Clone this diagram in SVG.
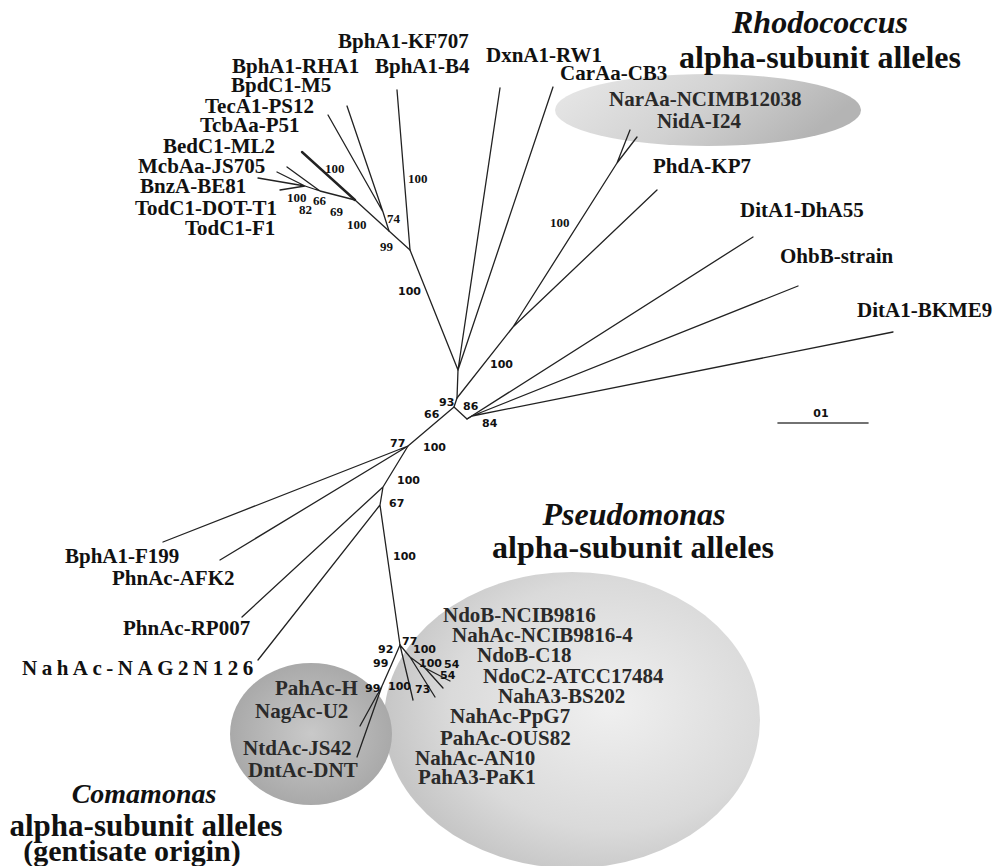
<svg xmlns="http://www.w3.org/2000/svg" width="998" height="866" viewBox="0 0 998 866">
<defs>
<linearGradient id="gRho" x1="0" y1="0" x2="1" y2="0.3">
<stop offset="0" stop-color="#e9e9e9"/><stop offset="0.55" stop-color="#d2d2d2"/><stop offset="1" stop-color="#b4b4b4"/>
</linearGradient>
<radialGradient id="gPse" cx="0.6" cy="0.45" r="0.6">
<stop offset="0" stop-color="#f0f0f0"/><stop offset="0.7" stop-color="#dadada"/><stop offset="1" stop-color="#c6c6c6"/>
</radialGradient>
<radialGradient id="gCom" cx="0.5" cy="0.5" r="0.55">
<stop offset="0" stop-color="#c9c9c9"/><stop offset="1" stop-color="#a6a6a6"/>
</radialGradient>
<style>
.lf{font-family:"Liberation Serif","Times New Roman",Times,serif;font-weight:bold;font-size:21px;fill:#111}
.in{fill:#2a2a2a}
.bs{font-family:"Liberation Serif","Times New Roman",Times,serif;font-weight:bold;font-size:13px;fill:#111}
.bc{font-family:"DejaVu Sans",Verdana,sans-serif;font-weight:bold;font-size:11px;fill:#111}
.tt{font-family:"Liberation Serif","Times New Roman",Times,serif;font-weight:bold;font-size:32px;fill:#111;text-anchor:middle}
.it{font-style:italic}
.br{fill:none;stroke:#222;stroke-width:1.3;stroke-linecap:round;stroke-linejoin:round}
</style>
</defs>
<rect width="998" height="866" fill="#fff"/>

<g id="clade-rhodococcus">
<ellipse cx="708" cy="110" rx="153" ry="36" fill="url(#gRho)"/>
<text class="tt it" x="820" y="33">Rhodococcus</text>
<text class="tt" x="820" y="68">alpha-subunit alleles</text>
</g>
<g id="clade-pseudomonas">
<ellipse cx="572" cy="720" rx="188" ry="148" fill="url(#gPse)"/>
<text class="tt it" x="634" y="525">Pseudomonas</text>
<text class="tt" x="633" y="558">alpha-subunit alleles</text>
</g>
<g id="clade-comamonas">
<ellipse cx="311" cy="734" rx="81" ry="71" fill="url(#gCom)"/>
<text class="tt it" x="144" y="803" style="font-size:28px">Comamonas</text>
<text class="tt" x="146" y="836" style="font-size:31px">alpha-subunit alleles</text>
<text class="tt" x="132" y="861" style="font-size:30px">(gentisate origin)</text>
</g>

<g id="connectors" class="br">
<path d="M458,370 L457,398 L454,407 L467,419 L753,237"/>
<path d="M467,419 L472,416 L798,286 M472,416 L893,332"/>
<path d="M457,398 L513,327 L657,190 M513,327 L617,163 L630,130 M617,163 L637,137"/>
<path d="M458,370 L500,88 M458,370 L553,87 M458,370 L410,250 L397,90"/>
<path d="M410,250 L389,231 L383,212 L328,115 M383,212 L347,106"/>
<path d="M389,231 L355,200 L320,191 L287,167 M320,191 L305,186 L277,172 M305,186 L258,178 M305,186 L280,190"/>
<path d="M355,200 L302,152" style="stroke-width:2.4"/>
<path d="M454,407 L408,446 L163,542 M408,446 L220,560"/>
<path d="M408,446 L383,487 L242,617 M383,487 L380,505 L258,660 M380,505 L400,645"/>
<path d="M400,645 L413,700 M400,645 L410,657 L435,697 M410,657 L425,668 L450,681 M425,668 L443,688"/>
<path d="M400,645 L390,668 L382,686 L360,726 M382,686 L357,757"/>
<path d="M778,423 L868,423" style="stroke-width:1.6;stroke:#444"/>
</g>

<g id="leaf-BphA1-KF707"><text class="lf" x="338" y="48">BphA1-KF707</text></g>
<g id="leaf-BphA1-RHA1"><text class="lf" x="232" y="73">BphA1-RHA1</text></g>
<g id="leaf-BphA1-B4"><text class="lf" x="375" y="73">BphA1-B4</text></g>
<g id="leaf-BpdC1-M5"><text class="lf" x="231" y="92">BpdC1-M5</text></g>
<g id="leaf-TecA1-PS12"><text class="lf" x="205" y="113">TecA1-PS12</text></g>
<g id="leaf-TcbAa-P51"><text class="lf" x="200" y="132">TcbAa-P51</text></g>
<g id="leaf-BedC1-ML2"><text class="lf" x="163" y="153">BedC1-ML2</text></g>
<g id="leaf-McbAa-JS705"><text class="lf" x="138" y="173">McbAa-JS705</text></g>
<g id="leaf-BnzA-BE81"><text class="lf" x="140" y="193">BnzA-BE81</text></g>
<g id="leaf-TodC1-DOT-T1"><text class="lf" x="135" y="215">TodC1-DOT-T1</text></g>
<g id="leaf-TodC1-F1"><text class="lf" x="185" y="235">TodC1-F1</text></g>
<g id="leaf-DxnA1-RW1"><text class="lf" x="486" y="62">DxnA1-RW1</text></g>
<g id="leaf-CarAa-CB3"><text class="lf" x="560" y="80">CarAa-CB3</text></g>
<g id="leaf-NarAa-NCIMB12038"><text class="lf in" x="609" y="106">NarAa-NCIMB12038</text></g>
<g id="leaf-NidA-I24"><text class="lf in" x="657" y="128">NidA-I24</text></g>
<g id="leaf-PhdA-KP7"><text class="lf" x="653" y="173">PhdA-KP7</text></g>
<g id="leaf-DitA1-DhA55"><text class="lf" x="740" y="217">DitA1-DhA55</text></g>
<g id="leaf-OhbB-strain"><text class="lf" x="780" y="263">OhbB-strain</text></g>
<g id="leaf-DitA1-BKME9"><text class="lf" x="857" y="317">DitA1-BKME9</text></g>
<g id="leaf-BphA1-F199"><text class="lf" x="65" y="563">BphA1-F199</text></g>
<g id="leaf-PhnAc-AFK2"><text class="lf" x="112" y="585">PhnAc-AFK2</text></g>
<g id="leaf-PhnAc-RP007"><text class="lf" x="123" y="635">PhnAc-RP007</text></g>
<g id="leaf-NahAc-NAG2N126"><text class="lf" x="22" y="675" style="letter-spacing:4.5px">NahAc-NAG2N126</text></g>
<g id="leaf-NdoB-NCIB9816"><text class="lf in" x="443" y="622">NdoB-NCIB9816</text></g>
<g id="leaf-NahAc-NCIB9816-4"><text class="lf in" x="452" y="642">NahAc-NCIB9816-4</text></g>
<g id="leaf-NdoB-C18"><text class="lf in" x="477" y="662">NdoB-C18</text></g>
<g id="leaf-NdoC2-ATCC17484"><text class="lf in" x="483" y="683">NdoC2-ATCC17484</text></g>
<g id="leaf-NahA3-BS202"><text class="lf in" x="498" y="703">NahA3-BS202</text></g>
<g id="leaf-NahAc-PpG7"><text class="lf in" x="450" y="723">NahAc-PpG7</text></g>
<g id="leaf-PahAc-OUS82"><text class="lf in" x="440" y="745">PahAc-OUS82</text></g>
<g id="leaf-NahAc-AN10"><text class="lf in" x="415" y="765">NahAc-AN10</text></g>
<g id="leaf-PahA3-PaK1"><text class="lf in" x="418" y="784">PahA3-PaK1</text></g>
<g id="leaf-PahAc-H"><text class="lf in" x="275" y="695">PahAc-H</text></g>
<g id="leaf-NagAc-U2"><text class="lf in" x="255" y="718">NagAc-U2</text></g>
<g id="leaf-NtdAc-JS42"><text class="lf in" x="243" y="755">NtdAc-JS42</text></g>
<g id="leaf-DntAc-DNT"><text class="lf in" x="248" y="777">DntAc-DNT</text></g>

<g id="bootstrap">
<text class="bs" x="325" y="173">100</text>
<text class="bs" x="287" y="202">100</text>
<text class="bs" x="299" y="214">82</text>
<text class="bs" x="313" y="205">66</text>
<text class="bs" x="330" y="216">69</text>
<text class="bs" x="347" y="229">100</text>
<text class="bs" x="387" y="223">74</text>
<text class="bs" x="380" y="251">99</text>
<text class="bs" x="408" y="183">100</text>
<text class="bs" x="550" y="227">100</text>
<text class="bc" x="398" y="295">100</text>
<text class="bc" x="490" y="368">100</text>
<text class="bc" x="439" y="406">93</text>
<text class="bc" x="424" y="418">66</text>
<text class="bc" x="463" y="410">86</text>
<text class="bc" x="482" y="427">84</text>
<text class="bc" x="390" y="447">77</text>
<text class="bc" x="423" y="451">100</text>
<text class="bc" x="397" y="484">100</text>
<text class="bc" x="389" y="507">67</text>
<text class="bc" x="393" y="560">100</text>
<text class="bc" x="378" y="653">92</text>
<text class="bc" x="402" y="645">77</text>
<text class="bc" x="413" y="653">100</text>
<text class="bc" x="419" y="667">100</text>
<text class="bc" x="444" y="668">54</text>
<text class="bc" x="440" y="679">54</text>
<text class="bc" x="373" y="667">99</text>
<text class="bc" x="388" y="690">100</text>
<text class="bc" x="415" y="693">73</text>
<text class="bc" x="365" y="692">99</text>
</g>
<g id="scale"><text class="bc" x="821" y="417" text-anchor="middle">01</text></g>
</svg>
